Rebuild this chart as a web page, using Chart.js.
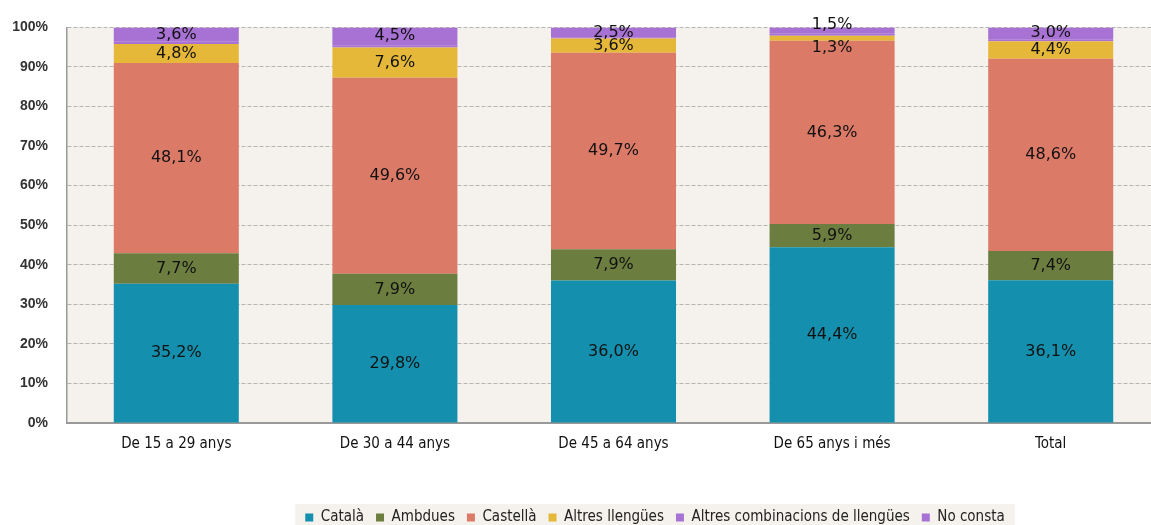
<!DOCTYPE html>
<html>
<head>
<meta charset="utf-8">
<script src="https://cdn.jsdelivr.net/npm/chart.js@4/dist/chart.umd.min.js"></script>
<style>
  html, body { margin: 0; padding: 0; background: #fff; overflow: hidden; }
  #wrap { width: 1160px; height: 525px; }
</style>
</head>
<body>
<div id="wrap"><canvas id="chart"></canvas></div>
<script>
// age groups
const categories = ['De 15 a 29 anys', 'De 30 a 44 anys', 'De 45 a 64 anys', 'De 65 anys i més', 'Total'];

// % of population by usual language
const catala       = [35.2, 29.8, 36.0, 44.4, 36.1];
const ambdues      = [7.7, 7.9, 7.9, 5.9, 7.4];
const castella     = [48.1, 49.6, 49.7, 46.3, 48.6];
const altresLleng  = [4.8, 7.6, 3.6, 1.3, 4.4];
const altresComb   = [0.6, 0.6, 0.3, 0.6, 0.5];
const noConsta     = [3.6, 4.5, 2.5, 1.5, 3.0];

const yTicks = [0, 10, 20, 30, 40, 50, 60, 70, 80, 90, 100];

const colors = {
  catala: '#1490ae',
  ambdues: '#6b7d3f',
  castella: '#dc7a68',
  altres: '#e6b83a',
  comb: '#a872d4',
  nc: '#a872d4'
};

const fmt = v => v.toFixed(1).replace('.', ',') + '%';

// legend sits a bit right of centre and lower in the original
const legendShift = {
  id: 'legendShift',
  afterLayout(chart) {
    const lg = chart.legend;
    lg.left += 75; lg.right += 75;
    lg.top += 10; lg.bottom += 10;
  }
};

// beige plot background + legend background
const bgPlugin = {
  id: 'bg',
  beforeDraw(chart) {
    const { ctx, chartArea: a } = chart;
    ctx.save();
    ctx.fillStyle = '#f5f1ec';
    ctx.fillRect(a.left, a.top, a.right - a.left, a.bottom - a.top);
    const hb = chart.legend.legendHitBoxes;
    if (hb && hb.length) {
      const l = Math.min(...hb.map(b => b.left)) - 10;
      const r = Math.max(...hb.map(b => b.left + b.width)) + 10;
      const t = Math.min(...hb.map(b => b.top)) - 6;
      const bt = Math.max(...hb.map(b => b.top + b.height)) + 6;
      ctx.fillRect(l, t, r - l, bt - t);
    }
    ctx.restore();
  }
};

// value labels in the segments
const labelPlugin = {
  id: 'vals',
  afterDatasetsDraw(chart) {
    const { ctx } = chart;
    ctx.save();
    ctx.font = '16px "DejaVu Sans", sans-serif';
    ctx.fillStyle = '#111';
    ctx.textAlign = 'center';
    ctx.textBaseline = 'middle';
    const last = chart.data.datasets.length - 1;
    chart.data.datasets.forEach((ds, i) => {
      const meta = chart.getDatasetMeta(i);
      meta.data.forEach((bar, j) => {
        const v = ds.data[j];
        if (v < 1) return;
        let y = (bar.y + bar.base) / 2;
        const h = Math.abs(bar.base - bar.y);
        if (h < 8) {
          if (i === last) y = bar.y - 3;
          else y = bar.base + 7;
        }
        ctx.fillText(fmt(v), bar.x, y);
      });
    });
    ctx.restore();
  }
};

const mk = (label, data, color) => ({
  label, data, backgroundColor: color, borderWidth: 0,
  barPercentage: 0.572, categoryPercentage: 1
});

new Chart(document.getElementById('chart'), {
  type: 'bar',
  data: {
    labels: categories,
    datasets: [
      mk('Català', catala, colors.catala),
      mk('Ambdues', ambdues, colors.ambdues),
      mk('Castellà', castella, colors.castella),
      mk('Altres llengües', altresLleng, colors.altres),
      mk('Altres combinacions de llengües', altresComb, colors.comb),
      mk('No consta', noConsta, colors.nc)
    ]
  },
  options: {
    responsive: true,
    maintainAspectRatio: false,
    animation: false,
    layout: { padding: { top: 27, right: 0, bottom: 0, left: 0 } },
    plugins: {
      tooltip: { enabled: false },
      legend: {
        position: 'bottom',
        labels: {
          boxWidth: 8, boxHeight: 8, padding: 12,
          color: '#222',
          font: { family: '"DejaVu Sans Condensed", "Liberation Sans Narrow", sans-serif', size: 15 }
        }
      }
    },
    scales: {
      x: {
        stacked: true,
        afterFit: s => { s.height = 65; },
        grid: { display: false, drawTicks: false },
        border: { color: '#999', width: 2 },
        ticks: {
          padding: 12,
          color: '#111',
          font: { family: '"DejaVu Sans Condensed", "Liberation Sans Narrow", sans-serif', size: 15 }
        }
      },
      y: {
        stacked: true,
        min: 0, max: 100,
        afterFit: s => { s.width = 67; },
        afterBuildTicks: s => { s.ticks = yTicks.map(v => ({ value: v })); },
        grid: { color: '#b5b5b5', drawTicks: false },
        border: { color: '#999', width: 1.5, dash: [4, 2] },
        ticks: {
          padding: 19,
          color: '#333',
          font: { family: '"Liberation Sans", sans-serif', size: 14, weight: 'bold' },
          callback: v => v + '%'
        }
      }
    }
  },
  plugins: [legendShift, bgPlugin, labelPlugin]
});
</script>
</body>
</html>
